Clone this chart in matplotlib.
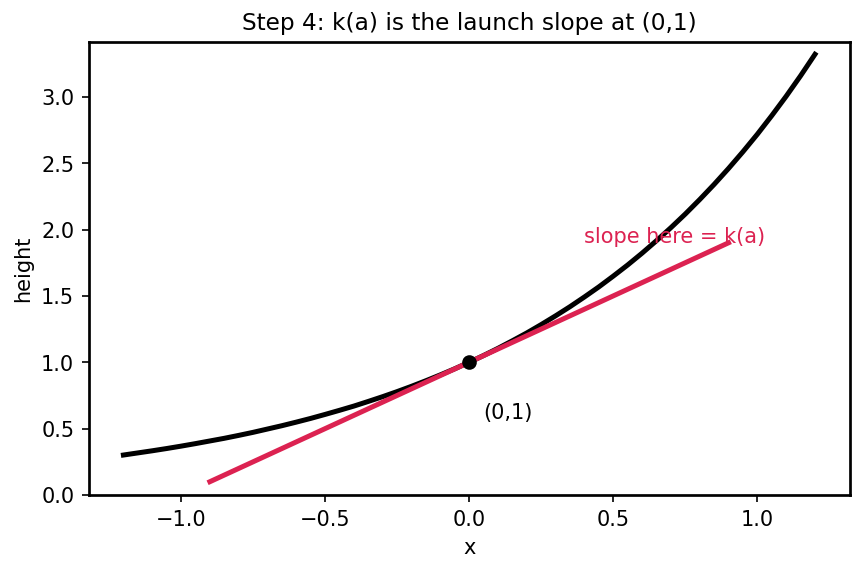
import matplotlib
matplotlib.use("Agg")
import matplotlib.pyplot as plt

# curve heights, x from -1.2 to 1.2 in steps of 0.05
curve_x = [-1.2, -1.15, -1.1, -1.05, -1.0, -0.95, -0.9, -0.85, -0.8, -0.75, -0.7,
           -0.65, -0.6, -0.55, -0.5, -0.45, -0.4, -0.35, -0.3, -0.25, -0.2, -0.15,
           -0.1, -0.05, 0.0, 0.05, 0.1, 0.15, 0.2, 0.25, 0.3, 0.35, 0.4, 0.45, 0.5,
           0.55, 0.6, 0.65, 0.7, 0.75, 0.8, 0.85, 0.9, 0.95, 1.0, 1.05, 1.1, 1.15, 1.2]
curve_y = [0.301, 0.317, 0.333, 0.350, 0.368, 0.387, 0.407, 0.427, 0.449, 0.472,
           0.497, 0.522, 0.549, 0.577, 0.607, 0.638, 0.670, 0.705, 0.741, 0.779,
           0.819, 0.861, 0.905, 0.951, 1.000, 1.051, 1.105, 1.162, 1.221, 1.284,
           1.350, 1.419, 1.492, 1.568, 1.649, 1.733, 1.822, 1.916, 2.014, 2.117,
           2.226, 2.340, 2.460, 2.586, 2.718, 2.858, 3.004, 3.158, 3.320]

# tangent line at (0,1)
tangent_x = [-0.9, 0.9]
tangent_y = [0.1, 1.9]

point = (0.0, 1.0)
red = "#dc2251"

fig, ax = plt.subplots(figsize=(5.75, 3.81), dpi=150)
ax.plot(curve_x, curve_y, color="black", lw=2.4)
ax.plot(tangent_x, tangent_y, color=red, lw=2.4)
ax.plot([point[0]], [point[1]], "o", color="black", ms=6, zorder=5)
ax.text(0.05, 0.58, "(0,1)", fontsize=10)
ax.text(0.4, 1.9, "slope here = k(a)", color=red, fontsize=10)
ax.set_ylim(0, 3.41)
ax.set_xlabel("x")
ax.set_ylabel("height")
ax.set_title("Step 4: k(a) is the launch slope at (0,1)", fontsize=11.2)
for s in ax.spines.values():
    s.set_linewidth(1.3)
fig.subplots_adjust(left=0.103, right=0.985, top=0.925, bottom=0.133)
fig.savefig("out.png")
